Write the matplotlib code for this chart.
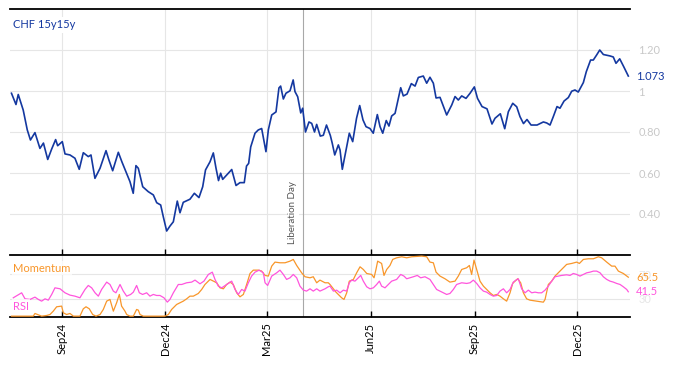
import numpy as np
import pandas as pd
import matplotlib
matplotlib.use("Agg")
import matplotlib.pyplot as plt
import matplotlib.dates as mdates
import matplotlib.transforms as mtransforms

plt.rcParams['font.family'] = ['Lato', 'DejaVu Sans']

# data, days counted from start
start = pd.Timestamp("2024-07-18")
liberation = pd.Timestamp("2025-04-02")

chf_days = [0, 4.0, 6.0, 10.4, 14.0, 16.8, 20.8, 25.2, 28.3, 32.1, 35.6, 39.1, 40.9, 45.0, 47.4,
            51.8, 56.2, 60.0, 63.6, 68.0, 70.4, 73.9, 78.4, 83.7, 86.3, 89.6, 94.6, 97.8, 101.4,
            104.9, 107.8, 110.2, 112.3, 116.2, 121.1, 125.6, 128.6, 132.1, 134.4, 137.4, 140.3,
            143.3, 146.8, 149.2, 152.1, 158.0, 161.9, 166.0, 169.3, 171.8, 175.8, 178.7, 181.1,
            183.3, 185.2, 187.0, 190.5, 195.0, 198.8, 202.3, 206.1, 208.1, 210.0, 211.8, 215.6,
            218.5, 221.5, 225.3, 227.4, 230.4, 234.2, 236.8, 238.3, 240.7, 243.0, 246.6, 249.4,
            251.0, 253.4, 256.1, 257.8, 260.3, 263.4, 265.8, 268.3, 270.2, 273.4, 276.1, 278.9,
            282.3, 284.0, 286.2, 289.4, 290.9, 292.9, 296.2, 299.1, 302.1, 305.5, 308.3, 311.2,
            313.9, 317.4, 320.3, 323.9, 326.3, 328.7, 331.8, 334.2, 336.6, 339.6, 342.2, 344.6,
            346.9, 350.2, 354.0, 357.3, 360.2, 364.6, 367.6, 370.5, 373.5, 375.9, 379.4, 381.6,
            385.3, 389.8, 392.7, 395.6, 398.6, 402.4, 406.0, 409.8, 412.6, 416.6, 421.0, 425.4,
            428.1, 432.8, 436.7, 439.9, 443.8, 447.3, 450.2, 453.3, 456.4, 460.0, 465.3, 470.9,
            473.9, 476.8, 479.7, 483.0, 485.6, 489.2, 493.0, 496.0, 498.9, 501.8, 506.3, 508.9,
            512.7, 515.1, 518.1, 520.8, 524.0, 529.9, 532.8, 535.2, 538.5, 542.0, 546.1]
chf_vals = [0.989, 0.934, 0.983, 0.907, 0.810, 0.761, 0.797, 0.720, 0.746, 0.666, 0.717, 0.763,
            0.733, 0.753, 0.693, 0.688, 0.672, 0.618, 0.699, 0.680, 0.688, 0.574, 0.623, 0.709,
            0.663, 0.611, 0.701, 0.654, 0.606, 0.558, 0.501, 0.636, 0.623, 0.533, 0.509, 0.493,
            0.455, 0.444, 0.387, 0.317, 0.341, 0.362, 0.463, 0.406, 0.457, 0.472, 0.501, 0.480,
            0.533, 0.615, 0.655, 0.698, 0.623, 0.563, 0.599, 0.569, 0.590, 0.617, 0.539, 0.553,
            0.553, 0.634, 0.647, 0.727, 0.794, 0.810, 0.817, 0.704, 0.810, 0.883, 0.898, 1.015,
            1.024, 0.961, 0.989, 1.001, 1.054, 0.997, 0.972, 0.893, 0.916, 0.800, 0.849, 0.842,
            0.800, 0.837, 0.780, 0.784, 0.834, 0.783, 0.745, 0.688, 0.737, 0.712, 0.618, 0.712,
            0.794, 0.753, 0.867, 0.929, 0.859, 0.826, 0.817, 0.794, 0.885, 0.826, 0.794, 0.856,
            0.829, 0.878, 0.891, 0.956, 1.016, 0.976, 0.985, 1.036, 1.024, 1.066, 1.073, 1.038,
            1.067, 1.038, 0.966, 0.969, 0.937, 0.883, 0.932, 0.973, 0.956, 0.976, 0.964, 0.989,
            1.020, 0.964, 0.924, 0.913, 0.839, 0.867, 0.889, 0.816, 0.899, 0.940, 0.923, 0.875,
            0.841, 0.861, 0.834, 0.834, 0.849, 0.844, 0.834, 0.875, 0.924, 0.916, 0.951, 0.968,
            0.999, 1.005, 0.995, 1.041, 1.094, 1.151, 1.151, 1.176, 1.200, 1.178, 1.171, 1.166,
            1.135, 1.157, 1.119, 1.073]

rsi_days = [1.6, 9.0, 12.0, 16.4, 20.8, 23.8, 26.7, 29.7, 32.6, 35.6, 38.5, 43.0, 47.4, 51.8,
            56.2, 60.6, 65.1, 68.0, 71.0, 74.0, 76.9, 79.8, 84.3, 87.2, 90.2, 92.5, 96.1, 99.0,
            102.0, 105.5, 107.9, 110.8, 113.2, 116.1, 119.7, 122.6, 125.6, 128.5, 131.5, 135.0,
            138.0, 140.3, 143.3, 147.7, 150.7, 155.1, 159.5, 162.5, 166.9, 170.4, 174.3, 177.8,
            180.2, 183.1, 186.1, 190.5, 195.0, 197.9, 200.8, 203.8, 206.7, 209.7, 212.6, 215.6,
            219.4, 223.0, 224.5, 226.8, 230.4, 234.8, 237.7, 240.7, 243.6, 246.6, 249.5, 252.5,
            255.4, 258.4, 261.3, 264.3, 267.2, 270.2, 273.1, 277.6, 280.5, 282.0, 285.0, 287.9,
            290.9, 293.8, 296.8, 299.1, 301.2, 304.1, 307.1, 309.2, 311.5, 314.5, 317.4, 320.4,
            323.3, 325.7, 327.7, 330.7, 333.6, 336.6, 341.0, 344.6, 347.5, 349.9, 352.8, 355.8,
            359.3, 362.3, 366.1, 370.5, 373.5, 376.4, 379.4, 382.3, 385.3, 388.2, 391.2, 394.1,
            398.6, 403.0, 406.0, 408.9, 411.9, 414.8, 417.8, 420.7, 423.7, 426.6, 429.6, 432.5,
            435.5, 438.4, 441.4, 444.3, 446.7, 448.7, 451.7, 454.7, 457.6, 460.6, 463.5, 466.5,
            469.4, 472.4, 475.3, 478.3, 481.2, 484.2, 487.1, 491.5, 494.5, 497.4, 500.4, 503.3,
            506.3, 509.3, 512.2, 515.2, 518.1, 521.1, 524.0, 527.0, 529.9, 532.9, 535.8, 538.8,
            541.7, 544.7, 546.1]
rsi_vals = [31.6, 39.8, 29.9, 28.9, 32.7, 28.9, 26.1, 29.9, 27.7, 37.1, 48.0, 46.4, 39.8, 36.0,
            34.3, 31.6, 45.3, 51.9, 48.0, 39.8, 34.3, 45.3, 57.4, 53.5, 42.6, 39.8, 53.5, 42.6,
            34.3, 37.1, 40.9, 51.9, 39.8, 37.1, 39.8, 34.3, 37.1, 35.4, 35.4, 31.6, 24.5, 28.9,
            39.8, 53.5, 53.5, 56.3, 57.4, 60.7, 54.6, 59.0, 70.0, 73.8, 61.8, 50.8, 48.0, 53.5,
            59.0, 45.3, 37.1, 45.3, 42.6, 56.3, 67.3, 73.8, 77.1, 72.7, 56.3, 51.9, 67.3, 72.7,
            77.1, 70.0, 61.8, 64.5, 70.0, 64.5, 50.8, 44.2, 42.6, 46.4, 42.6, 46.4, 42.6, 46.4,
            49.7, 50.8, 42.6, 44.2, 39.8, 44.2, 42.6, 56.3, 60.7, 59.0, 64.5, 68.4, 59.0, 49.7,
            46.4, 48.0, 53.5, 59.0, 50.8, 48.0, 53.5, 59.0, 61.8, 70.0, 67.3, 62.9, 64.5, 66.2,
            68.4, 64.5, 66.2, 61.8, 53.5, 45.3, 42.6, 39.8, 37.1, 38.7, 45.3, 53.5, 56.3, 55.2,
            56.3, 60.7, 55.2, 48.0, 42.6, 40.9, 37.1, 34.3, 35.4, 42.6, 46.4, 39.8, 45.3, 57.4,
            60.7, 62.9, 46.4, 39.8, 44.2, 39.8, 40.9, 39.8, 39.8, 44.2, 50.8, 59.0, 66.2, 67.3,
            68.4, 69.4, 68.4, 71.6, 70.0, 67.3, 70.0, 72.7, 73.8, 75.5, 75.5, 72.7, 66.2, 61.8,
            59.0, 57.4, 55.2, 53.5, 49.7, 45.3, 41.5]

mom_days = [0, 19.3, 20.8, 23.8, 26.7, 31.1, 34.1, 37.0, 40.0, 44.4, 45.9, 48.8, 51.8, 54.8,
            60.6, 63.6, 66.0, 68.9, 71.9, 74.8, 78.4, 81.3, 84.3, 87.2, 90.2, 93.1, 95.5, 97.5,
            100.5, 102.0, 104.9, 107.9, 110.8, 112.3, 113.8, 116.7, 135.9, 138.9, 141.8, 146.2,
            149.2, 152.1, 155.1, 158.0, 161.0, 165.4, 168.4, 171.3, 175.8, 178.7, 181.7, 184.6,
            187.6, 190.5, 193.5, 196.4, 199.4, 202.3, 205.3, 208.2, 211.2, 214.1, 218.6, 221.5,
            224.5, 227.4, 230.4, 233.3, 237.7, 242.2, 246.6, 249.5, 252.5, 256.9, 259.9, 264.3,
            267.2, 270.2, 273.1, 277.6, 280.5, 282.0, 285.0, 287.3, 289.4, 292.3, 294.4, 296.8,
            299.1, 302.7, 305.6, 308.6, 311.5, 314.5, 318.9, 321.0, 322.7, 324.2, 327.7, 329.8,
            332.2, 335.1, 337.5, 341.0, 345.5, 349.9, 354.3, 363.2, 367.6, 370.5, 373.5, 375.9,
            379.4, 383.8, 388.2, 392.7, 395.6, 398.6, 403.0, 405.4, 407.4, 409.5, 411.9, 414.8,
            417.8, 420.7, 423.7, 426.6, 429.6, 432.5, 435.5, 438.4, 441.4, 443.7, 445.8, 448.2,
            450.8, 453.2, 456.1, 459.1, 465.0, 470.9, 472.4, 475.3, 478.3, 481.2, 485.6, 488.6,
            491.5, 496.0, 500.4, 502.8, 506.3, 510.7, 515.2, 519.6, 522.5, 527.0, 531.4, 534.3,
            537.3, 541.7, 546.1]
mom_vals = [1.4, 1.4, 5.8, 3.6, 1.4, 2.5, 4.1, 9.6, 16.8, 17.9, 6.9, 4.1, 5.8, 1.4,
            1.4, 13.5, 16.8, 13.5, 4.1, 1.4, 4.1, 12.4, 26.1, 28.9, 9.6, 23.4, 37.1, 17.9,
            9.6, 4.1, 1.4, 1.4, 12.4, 11.3, 4.1, 1.4, 1.4, 4.1, 12.4, 20.6,
            23.4, 26.1, 29.9, 34.3, 34.3, 38.7, 45.3, 53.5, 61.8, 59.0, 56.3, 48.0,
            46.4, 53.5, 57.4, 53.5, 39.8, 33.2, 37.1, 53.5, 71.6, 77.1, 77.1, 75.5,
            68.4, 67.3, 83.7, 90.3, 89.2, 89.2, 91.9, 94.7, 84.8, 72.7, 66.2, 64.5,
            66.2, 56.3, 60.7, 56.3, 56.3, 53.5, 46.4, 40.9, 37.1, 31.6, 28.9, 39.8,
            59.0, 61.8, 72.7, 82.6, 78.2, 71.6, 70.0, 64.5, 78.2, 91.9, 88.1, 68.4,
            78.2, 84.8, 94.7, 97.4, 99.1, 97.4, 99.1, 100.2, 99.1, 90.3, 89.2, 73.8,
            67.3, 62.9, 57.4, 59.0, 67.3, 78.2, 81.0, 84.8, 70.0, 93.6, 78.2, 59.0,
            50.8, 45.3, 39.8, 35.4, 37.1, 34.3, 29.9, 26.1, 39.8, 55.2, 59.0, 62.9,
            56.3, 39.8, 29.9, 27.7, 26.1, 24.4, 28.9, 53.5, 59.0, 67.3, 75.5, 81.0,
            86.5, 88.1, 90.3, 88.1, 94.7, 95.8, 95.8, 99.1, 97.4, 90.3, 83.7, 83.7,
            75.5, 71.6, 65.5]

tick_dates = ["2024-09-01", "2024-12-01", "2025-03-01", "2025-06-01", "2025-09-01", "2025-12-01"]


def to_dates(days):
    return start + pd.to_timedelta(np.array(days), unit="D")


blue = "#1438a0"
orange = "#f8962a"
pink = "#ff55dd"
grid_c = "#e6e6e6"
faint = "#c8c8c8"

fig = plt.figure(figsize=(6.74, 3.66), dpi=100)
ax = fig.add_axes([10 / 674, 1 - 255 / 366, 620 / 674, 246 / 366])
ax2 = fig.add_axes([10 / 674, 1 - 317 / 366, 620 / 674, 62 / 366], sharex=ax)

xmin = start - pd.Timedelta(days=1.3)
xmax = start + pd.Timedelta(days=547.6)
ticks = pd.to_datetime(tick_dates)

# top panel
ax.plot(to_dates(chf_days), chf_vals, color=blue, lw=1.2, zorder=3)
ax.set_ylim(0.20, 1.40)
ax.set_yticks([0.40, 0.60, 0.80, 1.0, 1.20])
ax.set_yticklabels(["0.40", "0.60", "0.80", "1", "1.20"])
ax.yaxis.tick_right()
ax.tick_params(axis="y", length=0, pad=6, labelcolor=faint, labelsize=8)
ax.tick_params(axis="x", which="both", bottom=True, direction="in", length=4,
               width=1, labelbottom=False)
for s in ["left", "right", "bottom"]:
    ax.spines[s].set_visible(False)
ax.spines["top"].set_linewidth(1.3)
ax.grid(True, color=grid_c, lw=0.8, zorder=0)
ax.set_axisbelow(True)
ax.axvline(liberation, color="#a8a8a8", lw=0.8, zorder=2)
ax.annotate("Liberation Day", xy=(liberation, 0.255), xytext=(-4, 0),
            textcoords="offset points", rotation=90, ha="right", va="bottom",
            fontsize=7, color="#555555", zorder=4,
            bbox=dict(facecolor="white", edgecolor="none", pad=1))
ax.text(0.005, 0.935, "CHF 15y15y", transform=ax.transAxes, color=blue, fontsize=8,
        va="center", ha="left", zorder=5,
        bbox=dict(facecolor="white", edgecolor="none", pad=2))
tr = mtransforms.blended_transform_factory(ax.transAxes, ax.transData)
ax.text(1.0097, chf_vals[-1], f"{chf_vals[-1]:.3f}", transform=tr, color=blue,
        fontsize=8, va="center", ha="left")

# lower panel
ax2.plot(to_dates(mom_days), mom_vals, color=orange, lw=0.9, zorder=3)
ax2.plot(to_dates(rsi_days), rsi_vals, color=pink, lw=0.9, zorder=3)
ax2.set_ylim(0, 102)
ax2.set_yticks([30, 70])
ax2.set_yticklabels(["30", "70"])
ax2.yaxis.tick_right()
ax2.tick_params(axis="y", length=0, pad=6, labelcolor="#e6e6e6", labelsize=8)
ax2.tick_params(axis="x", which="both", bottom=True, top=False, direction="in",
                length=4, width=1, labelsize=8, pad=4)
for s in ["left", "right"]:
    ax2.spines[s].set_visible(False)
ax2.spines["top"].set_linewidth(1.3)
ax2.spines["bottom"].set_linewidth(1.3)
ax2.grid(True, color=grid_c, lw=0.8, zorder=0)
ax2.set_axisbelow(True)
ax2.axvline(liberation, color="#a8a8a8", lw=0.8, zorder=2)
ax2.text(0.005, 0.79, "Momentum", transform=ax2.transAxes, color=orange, fontsize=8,
         va="center", ha="left", zorder=5,
         bbox=dict(facecolor="white", edgecolor="none", alpha=0.75, pad=1))
ax2.text(0.005, 0.177, "RSI", transform=ax2.transAxes, color=pink, fontsize=8,
         va="center", ha="left", zorder=5,
         bbox=dict(facecolor="white", edgecolor="none", alpha=0.75, pad=1))
tr2 = mtransforms.blended_transform_factory(ax2.transAxes, ax2.transData)
ax2.text(1.0097, mom_vals[-1], f"{mom_vals[-1]:.1f}", transform=tr2, color=orange,
         fontsize=8, va="center", ha="left")
ax2.text(1.0097, rsi_vals[-1], f"{rsi_vals[-1]:.1f}", transform=tr2, color=pink,
         fontsize=8, va="center", ha="left")

ax2.set_xlim(xmin, xmax)
ax2.set_xticks(ticks)
ax2.xaxis.set_major_formatter(mdates.DateFormatter("%b%y"))
for lbl in ax2.get_xticklabels():
    lbl.set_rotation(90)

fig.savefig("out.png", dpi=100)
